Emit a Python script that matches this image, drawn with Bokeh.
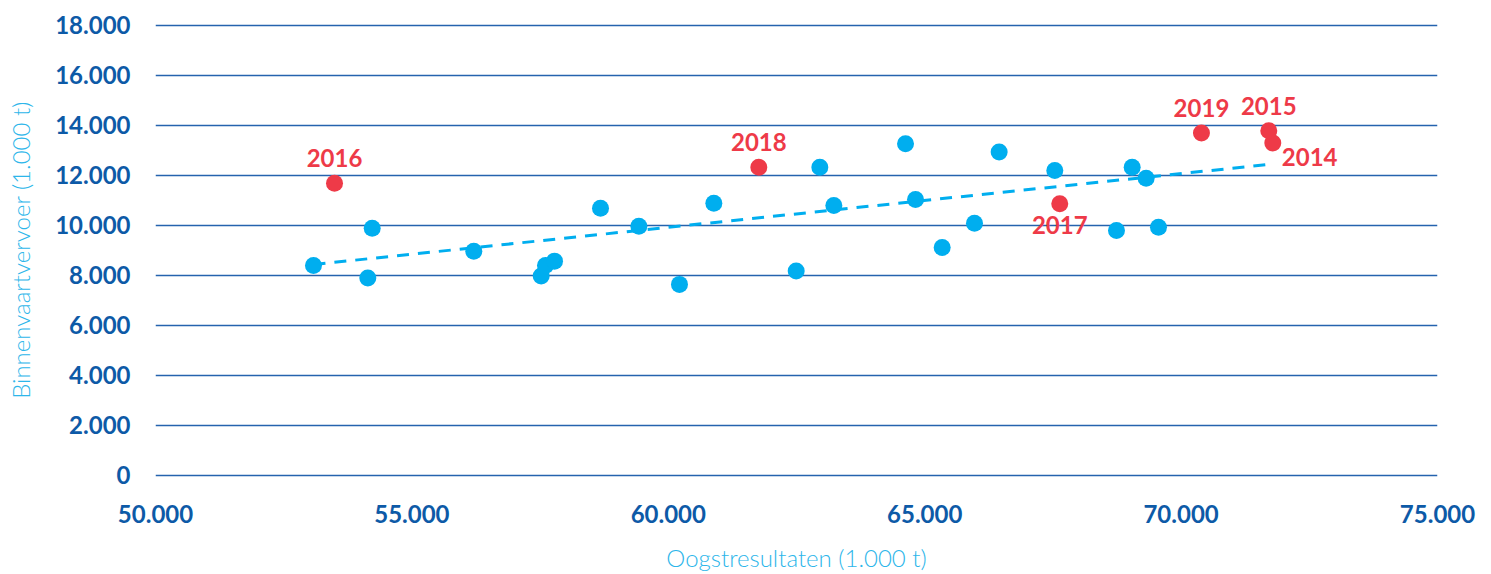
from bokeh.plotting import figure
from bokeh.models import FixedTicker, CustomJSTickFormatter, Range1d
from bokeh.core.properties import value
from bokeh.embed import file_html
from bokeh.resources import INLINE

# Data (1.000 t)
blue_x = [53081, 54226, 54140, 56207, 57521, 57605, 57781, 58678, 59426, 60218,
          60888, 62494, 62955, 63228, 64626, 64821, 65341, 65971, 66452, 67537,
          68740, 69046, 69318, 69559]
blue_y = [8383, 9872, 7876, 8954, 7956, 8383, 8555, 10671, 9952, 7625,
          10871, 8156, 12307, 10778, 13253, 11018, 9102, 10072, 12922, 12176,
          9780, 12308, 11870, 9913]

red_years = ["2014", "2015", "2016", "2017", "2018", "2019"]
red_x = [71788, 71710, 53491, 67634, 61765, 70397]
red_y = [13281, 13772, 11669, 10846, 12307, 13681]

trend_x = [53081, 71788]
trend_y = [8420, 12440]

x_ticks = [50000, 55000, 60000, 65000, 70000, 75000]
y_ticks = [0, 2000, 4000, 6000, 8000, 10000, 12000, 14000, 16000, 18000]

BLUE = "#00AEEF"
RED = "#EE3A48"
DARK = "#0D5AA7"
TITLE = "#2DB6EA"
FONT = "Lato"
LIGHT = "'Lato Light', Lato"

p = figure(width=1483, height=574, output_backend="svg", toolbar_location=None,
           x_range=Range1d(50000, 75000), y_range=Range1d(-100, 18100),
           min_border_left=155, min_border_right=46, min_border_top=22,
           min_border_bottom=96)
p.outline_line_color = None
p.background_fill_color = "white"

fmt = CustomJSTickFormatter(code="return tick.toString().replace(/\\B(?=(\\d{3})+(?!\\d))/g, '.');")

for ax in (p.xaxis[0], p.yaxis[0]):
    ax.formatter = fmt
    ax.axis_line_color = None
    ax.major_tick_line_color = None
    ax.minor_tick_line_color = None
    ax.major_label_text_font = FONT
    ax.major_label_text_font_style = "bold"
    ax.major_label_text_font_size = "24px"
    ax.major_label_text_color = DARK
    ax.axis_label_text_font = LIGHT
    ax.axis_label_text_font_style = "normal"
    ax.axis_label_text_font_size = "24px"
    ax.axis_label_text_color = TITLE

p.xaxis[0].ticker = FixedTicker(ticks=x_ticks)
p.yaxis[0].ticker = FixedTicker(ticks=y_ticks)
p.xaxis[0].axis_label = "Oogstresultaten (1.000 t)"
p.yaxis[0].axis_label = "Binnenvaartvervoer (1.000 t)"
p.xaxis[0].major_label_standoff = 21
p.xaxis[0].axis_label_standoff = 17
p.yaxis[0].major_label_standoff = 19
p.yaxis[0].axis_label_standoff = 17

p.xgrid.grid_line_color = None
p.ygrid.ticker = FixedTicker(ticks=y_ticks)
p.ygrid.grid_line_color = "#2563AE"
p.ygrid.grid_line_width = 1.5

p.line(trend_x, trend_y, line_color=BLUE, line_width=3, line_dash="12 9")
p.scatter(blue_x, blue_y, size=17, fill_color=BLUE, line_color=None)
p.scatter(red_x, red_y, size=17, fill_color=RED, line_color=None)

lbl = dict(text_font=value(FONT), text_font_style="bold", text_font_size="24px",
           text_color=RED, text_baseline="alphabetic")
above = [1, 2, 4, 5]
p.text([red_x[i] for i in above], [red_y[i] for i in above],
       text=[red_years[i] for i in above], text_align="center", y_offset=-25, **lbl)
p.text([red_x[3]], [red_y[3]], text=[red_years[3]],
       text_align="center", y_offset=21, **lbl)
p.text([red_x[0]], [red_y[0]], text=[red_years[0]],
       text_align="left", x_offset=9, y_offset=14, **lbl)

open("out.html", "w").write(file_html(p, INLINE))
